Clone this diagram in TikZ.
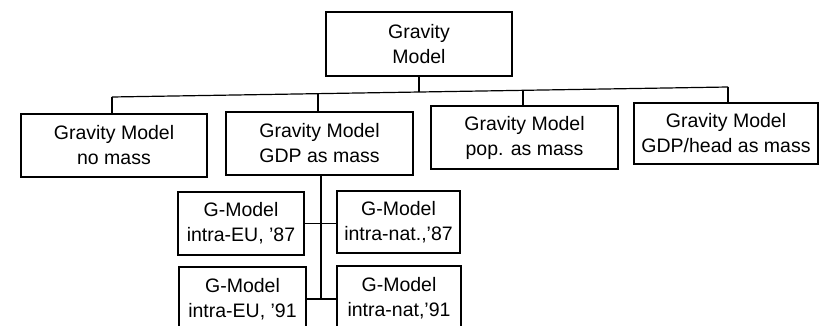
\documentclass[tikz,border=0pt]{standalone}
\usepackage{fontspec}
\setmainfont{Liberation Sans}
\begin{document}
\begin{tikzpicture}[x=1pt,y=-1pt,
  box/.style={draw, line width=1.2pt, align=center, inner sep=0pt,
    font=\fontsize{19.5}{25}\selectfont},
  conn/.style={line width=1.2pt}]
\useasboundingbox (0,0) rectangle (819,326);
\clip (0,0) rectangle (819,326);
\fill[white] (0,0) rectangle (819,326);
% top
\node[box, minimum width=186pt, minimum height=64pt] (top) at (419,44) {Gravity\\Model};
% second row
\node[box, minimum width=186pt, minimum height=63pt] (b1) at (114,145.5) {Gravity Model\\no mass};
\node[box, minimum width=187pt, minimum height=63pt] (b2) at (319.5,143.5) {Gravity Model\\GDP as mass};
\node[box, minimum width=187pt, minimum height=63pt] (b3) at (524.5,137.5) {Gravity Model\\pop. as mass};
\node[box, minimum width=184pt, minimum height=61pt] (b4) at (726,133.5) {Gravity Model\\GDP/head as mass};
% third level
\node[box, minimum width=126pt, minimum height=63pt] (ga) at (241,223.5) {G-Model\\intra-EU, '87};
\node[box, minimum width=123pt, minimum height=62pt] (gb) at (398.5,222) {G-Model\\intra-nat.,'87};
\node[box, minimum width=127pt, minimum height=64pt] (gc) at (242.5,299) {G-Model\\intra-EU, '91};
\node[box, minimum width=124pt, minimum height=64pt] (gd) at (399,298) {G-Model\\intra-nat,'91};
% bus
\coordinate (p1) at (112,97);
\coordinate (p2) at (318,93.7);
\coordinate (pT) at (419,92);
\coordinate (p3) at (523,90.3);
\coordinate (p4) at (728,87);
\coordinate (vx) at (321,0);
\draw[conn] (p1) -- (p4);
\draw[conn] (top.south) -- (top.south |- pT);
\draw[conn] (p1) -- (p1 |- b1.north);
\draw[conn] (p2) -- (p2 |- b2.north);
\draw[conn] (p3) -- (p3 |- b3.north);
\draw[conn] (p4) -- (p4 |- b4.north);
% sub tree
\draw[conn] (b2.south -| vx) -- (vx |- gc.east);
\draw[conn] (ga.east) -- (ga.east -| gb.west);
\draw[conn] (gc.east) -- (gc.east -| gd.west);
\end{tikzpicture}
\end{document}
